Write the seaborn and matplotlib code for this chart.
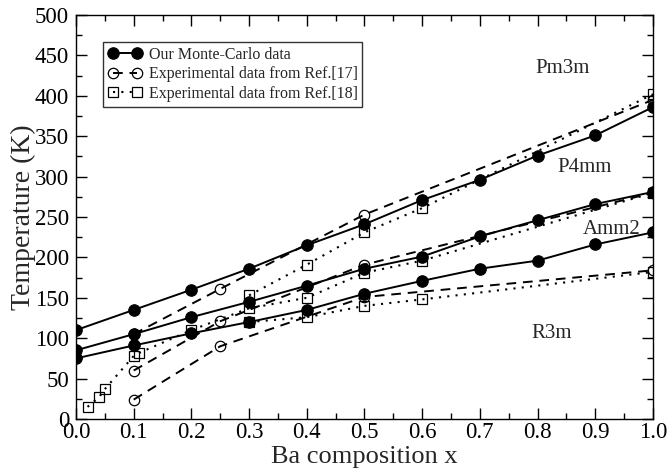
import matplotlib
matplotlib.use("Agg")
import matplotlib.pyplot as plt
from matplotlib.ticker import MultipleLocator
import seaborn as sns

# Monte-Carlo transition temperatures
mc_x = [0.0, 0.1, 0.2, 0.3, 0.4, 0.5, 0.6, 0.7, 0.8, 0.9, 1.0]
mc_cubic = [110, 135, 160, 186, 215, 241, 271, 296, 326, 351, 386]
mc_tetra = [85, 105, 126, 145, 165, 186, 201, 226, 246, 266, 281]
mc_ortho = [75, 91, 106, 120, 135, 155, 171, 186, 196, 216, 231]

# Experimental data, Ref. [17]
r17_x = [0.1, 0.25, 0.5, 1.0]
r17_cubic = [105, 161, 253, 395]
r17_tetra = [60, 121, 191, 280]
r17_ortho = [24, 90, 151, 184]

# Experimental data, Ref. [18]
r18_low_x = [0.02, 0.04, 0.05, 0.1, 0.11, 0.2, 0.3, 0.4, 0.5, 0.6, 1.0]
r18_low = [15, 27, 37, 78, 82, 110, 137, 150, 181, 196, 280]
r18_x = [0.3, 0.4, 0.5, 0.6, 1.0]
r18_cubic = [153, 191, 231, 261, 402]
r18_ortho = [120, 126, 140, 148, 182]

phase_names = ["Pm3m", "P4mm", "Amm2", "R3m"]
phase_x = [0.843, 0.882, 0.928, 0.825]
phase_y = [434, 311, 235, 106]

sns.set_theme(style="ticks")
plt.rcParams["font.family"] = ["Liberation Serif", "DejaVu Serif"]

fig = plt.figure(figsize=(6.69, 4.72), dpi=100)
ax = fig.add_axes([0.1136, 0.1123, 0.8624, 0.8559])

mc_style = dict(color="black", linestyle="-", linewidth=1.4, marker="o",
                markersize=8.3, markerfacecolor="black", markeredgecolor="black")
r17_style = dict(color="black", linewidth=1.4, marker="o", markersize=7.5,
                 markerfacecolor="none", markeredgecolor="black", markeredgewidth=0.9)
r18_style = dict(color="black", linewidth=1.5, marker="s", markersize=6.8,
                 markerfacecolor="none", markeredgecolor="black", markeredgewidth=0.9)
dash = (0, (5, 3.5))
dot = (0, (1, 3))

for i, ys in enumerate([mc_cubic, mc_tetra, mc_ortho]):
    sns.lineplot(x=mc_x, y=ys, ax=ax, sort=False, estimator=None,
                 label="Our Monte-Carlo data" if i == 0 else None, **mc_style)

for i, ys in enumerate([r17_cubic, r17_tetra, r17_ortho]):
    sns.lineplot(x=r17_x, y=ys, ax=ax, sort=False, estimator=None, linestyle=dash,
                 label="Experimental data from Ref.[17]" if i == 0 else None, **r17_style)

sns.lineplot(x=r18_low_x, y=r18_low, ax=ax, sort=False, estimator=None, linestyle=dot,
             label="Experimental data from Ref.[18]", **r18_style)
for ys in [r18_cubic, r18_ortho]:
    sns.lineplot(x=r18_x, y=ys, ax=ax, sort=False, estimator=None, linestyle=dot,
                 label=None, **r18_style)

for name, px, py in zip(phase_names, phase_x, phase_y):
    ax.text(px, py, name, ha="center", va="center", fontsize=15)

ax.set_xlim(0, 1.0)
ax.set_ylim(0, 500)
ax.xaxis.set_major_locator(MultipleLocator(0.1))
ax.xaxis.set_minor_locator(MultipleLocator(0.05))
ax.yaxis.set_major_locator(MultipleLocator(50))
ax.yaxis.set_minor_locator(MultipleLocator(25))
ax.xaxis.set_major_formatter(plt.FuncFormatter(lambda v, p: f"{v:.1f}"))
ax.tick_params(which="both", direction="in", top=True, right=True,
               labelsize=16.5, colors="black", width=1.0)
ax.tick_params(which="major", length=8)
ax.tick_params(which="minor", length=4)
ax.tick_params(axis="x", which="major", pad=2)
ax.tick_params(axis="y", which="major", pad=5)
for sp in ax.spines.values():
    sp.set_visible(True)
    sp.set_linewidth(1.0)
    sp.set_color("black")

ax.set_xlabel("Ba composition x", fontsize=19, labelpad=2)
ax.set_ylabel("Temperature (K)", fontsize=20, labelpad=-1)

leg = ax.legend(loc="upper left", bbox_to_anchor=(0.047, 0.933), borderaxespad=0,
                numpoints=2, fontsize=11.5, frameon=True, fancybox=False,
                handlelength=2.1, handletextpad=0.45, borderpad=0.3,
                labelspacing=0.22)
leg.get_frame().set_edgecolor("black")
leg.get_frame().set_linewidth(1.0)

fig.savefig("out.png", dpi=100)
